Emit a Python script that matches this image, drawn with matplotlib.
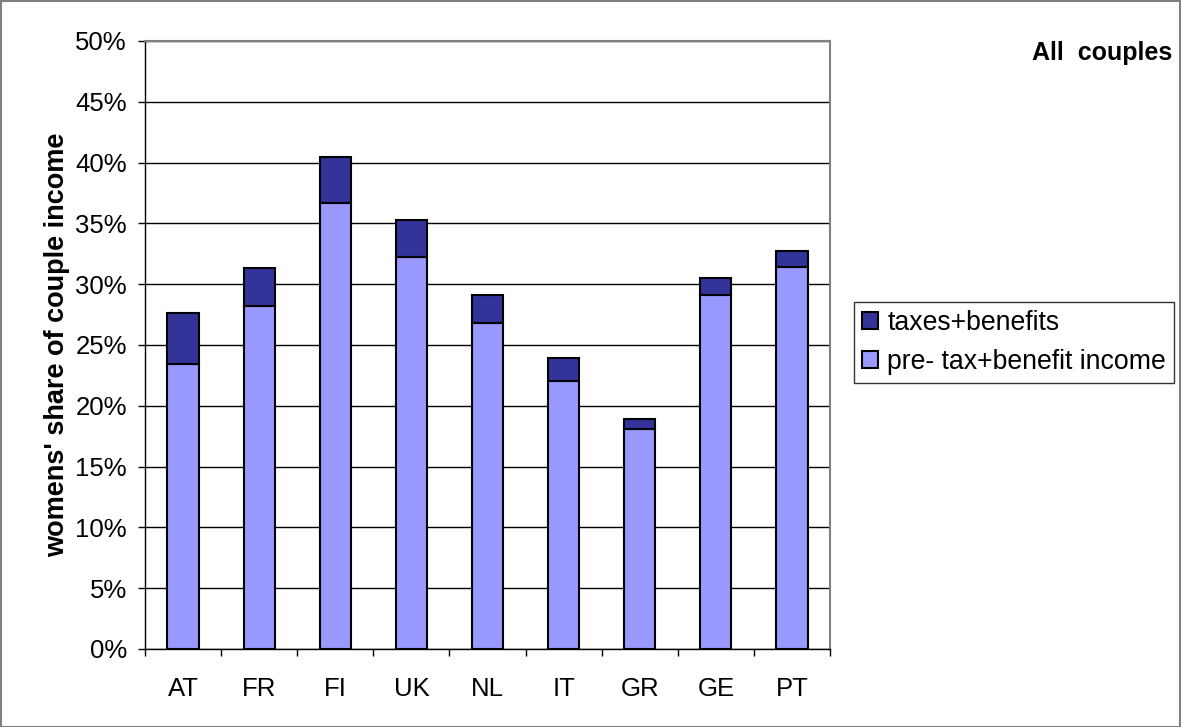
import matplotlib
matplotlib.use("Agg")
import matplotlib.pyplot as plt
from matplotlib.ticker import FuncFormatter, FixedLocator
from matplotlib.patches import Rectangle
import numpy as np

categories = ["AT", "FR", "FI", "UK", "NL", "IT", "GR", "GE", "PT"]
pre_income = [23.4, 28.2, 36.7, 32.2, 26.8, 22.0, 18.1, 29.1, 31.4]
total = [27.6, 31.3, 40.5, 35.3, 29.1, 23.9, 18.9, 30.5, 32.7]
taxes_benefits = [t - p for t, p in zip(total, pre_income)]

plt.rcParams['font.family'] = ['Liberation Sans', 'DejaVu Sans']

fig = plt.figure(figsize=(11.81, 7.27), dpi=100)
ax = fig.add_axes([145/1181, 1 - 649/727, (830-145)/1181, (649-41)/727])

x = np.arange(len(categories))
w = 0.41
b1 = ax.bar(x, pre_income, width=w, color="#9999FF", edgecolor="black", linewidth=1.5,
            label="pre- tax+benefit income", zorder=3)
b2 = ax.bar(x, taxes_benefits, bottom=pre_income, width=w, color="#333399", edgecolor="black",
            linewidth=1.5, label="taxes+benefits", zorder=3)

ax.set_xlim(-0.5, len(categories) - 0.5)
ax.set_ylim(0, 50)
ax.set_yticks(np.arange(0, 51, 5))
ax.yaxis.set_major_formatter(FuncFormatter(lambda v, p: f"{int(v)}%"))
ax.grid(axis="y", color="black", linewidth=1.0, zorder=0)
ax.set_xticks(x)
ax.set_xticklabels(categories)
ax.xaxis.set_minor_locator(FixedLocator(np.arange(-0.5, len(categories), 1)))
ax.tick_params(axis="x", which="major", length=0, labelsize=18.5, pad=20)
ax.tick_params(axis="x", which="minor", length=5, width=1, color="black")
ax.tick_params(axis="y", length=5, width=1, labelsize=18.5, pad=8)

for s in ["top", "right"]:
    ax.spines[s].set_color("#808080")
    ax.spines[s].set_linewidth(1.5)
for s in ["left", "bottom"]:
    ax.spines[s].set_color("black")
    ax.spines[s].set_linewidth(1)

ax.set_ylabel("womens' share of couple income", fontsize=19.5, fontweight="bold")
ax.yaxis.set_label_coords(70/1181, 1 - 345/727, transform=fig.transFigure)

leg = ax.legend(handles=[b2, b1], loc="upper left", bbox_to_anchor=(854/1181, 1 - 302/727),
                bbox_transform=fig.transFigure, fontsize=19.2, frameon=True, fancybox=False,
                edgecolor="black", handlelength=0.6, handleheight=0.6, handletextpad=0.35,
                borderpad=0.3, labelspacing=0.5, borderaxespad=0)
leg.get_frame().set_linewidth(1)

fig.text(1172/1181, 1 - 53/727, "All  couples", ha="right", va="center", fontsize=18,
         fontweight="bold")

fig.patches.append(Rectangle((0.5/1181, 0.5/727), 1 - 1.5/1181, 1 - 1.5/727,
                             transform=fig.transFigure, fill=False, edgecolor="#808080",
                             linewidth=1.5))

fig.savefig("out.png", dpi=100)
